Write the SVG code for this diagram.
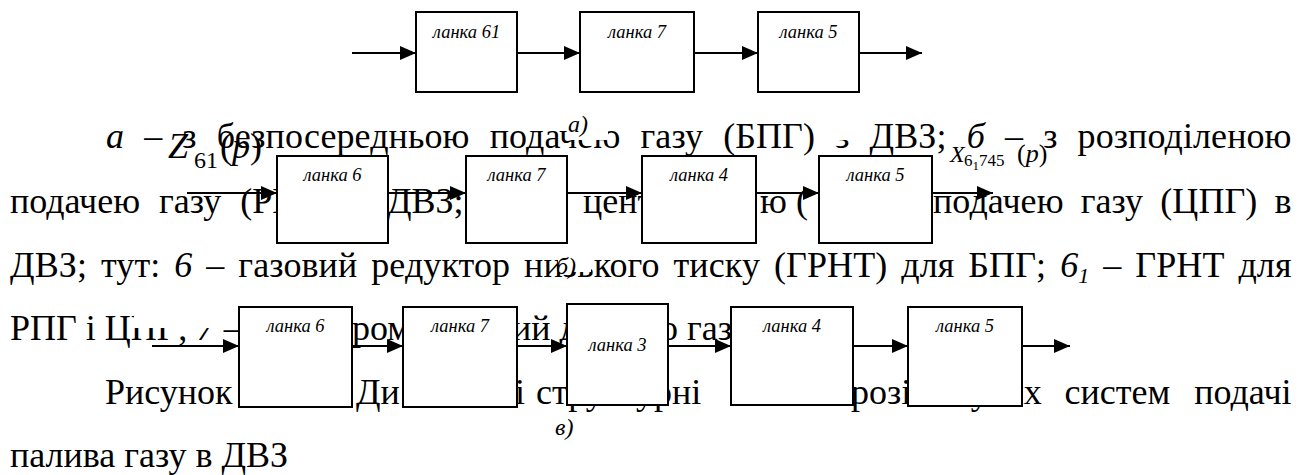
<svg xmlns="http://www.w3.org/2000/svg" width="1313" height="475" viewBox="0 0 1313 475">
<defs>
<marker id="ah" markerUnits="userSpaceOnUse" markerWidth="16" markerHeight="14" refX="16" refY="7" orient="auto"><path d="M0,0 L16,7 L0,14 z" fill="#000"/></marker>
<style>
.t{font-family:"Liberation Serif","Times New Roman",serif;font-size:36px;fill:#000}
.i{font-style:italic}
.lbl{font-family:"Liberation Serif","Times New Roman",serif;font-style:italic;font-size:18.5px;text-anchor:middle;fill:#000}
.cap{font-family:"Liberation Serif","Times New Roman",serif;font-style:italic;font-size:24px;fill:#000}
.box{fill:#fff;stroke:#000;stroke-width:2}
.edge{stroke:#000;stroke-width:2;fill:none;marker-end:url(#ah)}
.mask{fill:#fff}
.m{font-family:"Liberation Serif","Times New Roman",serif;fill:#000}
</style>
</defs>
<rect width="1313" height="475" fill="#fff"/>
<g id="paragraph">
<text class="t" x="106" y="148" textLength="1185.5" lengthAdjust="spacing" word-spacing="11"><tspan class="i">а</tspan> – з безпосередньою подачею газу (БПГ) з ДВЗ; <tspan class="i">б</tspan> – з розподіленою</text>
<text class="t" x="10" y="213" word-spacing="10">подачею газу (РПГ)</text>
<text class="t" x="387" y="213">ДВЗ;</text>
<text class="t" x="583" y="213">цент</text>
<text class="t" x="760" y="213">ю (</text>
<text class="t" x="933" y="213" textLength="358.5" lengthAdjust="spacing" word-spacing="8">подачею газу (ЦПГ) в</text>
<text class="t" x="10" y="277" textLength="1281.5" lengthAdjust="spacing" word-spacing="4.8">ДВЗ; тут: <tspan class="i">6</tspan> – газовий редуктор низького тиску (ГРНТ) для БПГ; <tspan class="i">6<tspan font-size="22" dy="6">1</tspan></tspan><tspan dy="-6"> – ГРНТ для</tspan></text>
<text class="t" x="10" y="340">РПГ і ЦПГ; <tspan class="i">7</tspan> –</text>
<text class="t" x="352" y="340">ром</text>
<text class="t" x="512" y="340">ий д</text>
<text class="t" x="660" y="340">о газу</text>
<text class="t" x="105" y="404">Рисунок</text>
<text class="t" x="356" y="404">Ди</text>
<text class="t" x="515" y="404">і</text>
<text class="t" x="536" y="404">структурні</text>
<text class="t" x="851" y="404">розімкнутих</text>
<text class="t" x="1064.5" y="404">систем</text>
<text class="t" x="1291.5" y="404" text-anchor="end">подачі</text>
<text class="t" x="10" y="467">палива газу в ДВЗ</text>
</g>
<g id="captions">
<rect class="mask" x="568" y="100" width="40" height="40"/>
<rect class="mask" x="832" y="100" width="26" height="40"/>
<rect class="mask" x="558" y="245" width="33" height="27"/>
<rect class="mask" x="134" y="300" width="105" height="28"/>
<text class="cap" x="568" y="132">а)</text>
<text class="cap" x="556" y="274">б)</text>
<text class="cap" x="555" y="435">в)</text>
</g>
<g id="formulas">
<text class="m" y="158"><tspan x="168" font-style="italic" font-size="36">Z</tspan><tspan x="194" y="168" font-size="24">61</tspan><tspan x="220" y="158" font-size="36">(</tspan><tspan font-style="italic" font-size="36">p</tspan><tspan font-size="36">)</tspan></text>
<text class="m" y="162"><tspan x="950" font-style="italic" font-size="24">X</tspan><tspan x="964" y="166" font-size="17">6</tspan><tspan y="170" font-size="13">1</tspan><tspan y="166" font-size="17">745</tspan><tspan x="1017" y="162" font-size="26">(</tspan><tspan font-style="italic" font-size="26">p</tspan><tspan font-size="26">)</tspan></text>
</g>
<g id="connectors">
<line class="edge" x1="352" y1="53" x2="416" y2="53"/>
<line class="edge" x1="517" y1="53" x2="580" y2="53"/>
<line class="edge" x1="694" y1="53" x2="758" y2="53"/>
<line class="edge" x1="859" y1="53" x2="922" y2="53"/>
<line class="edge" x1="187" y1="193" x2="277" y2="193"/>
<line class="edge" x1="388" y1="193" x2="466" y2="193"/>
<line class="edge" x1="567" y1="193" x2="642" y2="193"/>
<line class="edge" x1="756" y1="193" x2="819" y2="193"/>
<line class="edge" x1="932" y1="193" x2="993" y2="193"/>
<line class="edge" x1="152" y1="346" x2="239" y2="346"/>
<line class="edge" x1="352" y1="346" x2="403" y2="346"/>
<line class="edge" x1="517" y1="346" x2="567" y2="346"/>
<line class="edge" x1="668" y1="346" x2="731" y2="346"/>
<line class="edge" x1="853" y1="346" x2="908" y2="346"/>
<line class="edge" x1="1022" y1="346" x2="1070" y2="346"/>
</g>
<g id="a1"><rect class="box" x="416" y="12" width="101" height="80"/><text class="lbl" x="466.5" y="38">ланка 61</text></g>
<g id="a2"><rect class="box" x="580" y="12" width="114" height="80"/><text class="lbl" x="637" y="38">ланка 7</text></g>
<g id="a3"><rect class="box" x="758" y="12" width="101" height="80"/><text class="lbl" x="808.5" y="38">ланка 5</text></g>
<g id="b1"><rect class="box" x="277" y="156" width="111" height="87"/><text class="lbl" x="332.5" y="181">ланка 6</text></g>
<g id="b2"><rect class="box" x="466" y="156" width="101" height="87"/><text class="lbl" x="516.5" y="181">ланка 7</text></g>
<g id="b3"><rect class="box" x="642" y="156" width="114" height="87"/><text class="lbl" x="699" y="181">ланка 4</text></g>
<g id="b4"><rect class="box" x="819" y="156" width="113" height="87"/><text class="lbl" x="875.5" y="181">ланка 5</text></g>
<g id="c1"><rect class="box" x="239" y="307" width="113" height="100"/><text class="lbl" x="295.5" y="332">ланка 6</text></g>
<g id="c2"><rect class="box" x="403" y="307" width="114" height="100"/><text class="lbl" x="460" y="332">ланка 7</text></g>
<g id="c3"><rect class="box" x="567" y="304" width="101" height="101"/><text class="lbl" x="617.5" y="351">ланка 3</text></g>
<g id="c4"><rect class="box" x="731" y="307" width="122" height="98"/><text class="lbl" x="792" y="332">ланка 4</text></g>
<g id="c5"><rect class="box" x="908" y="307" width="114" height="99"/><text class="lbl" x="965" y="332">ланка 5</text></g>
</svg>
